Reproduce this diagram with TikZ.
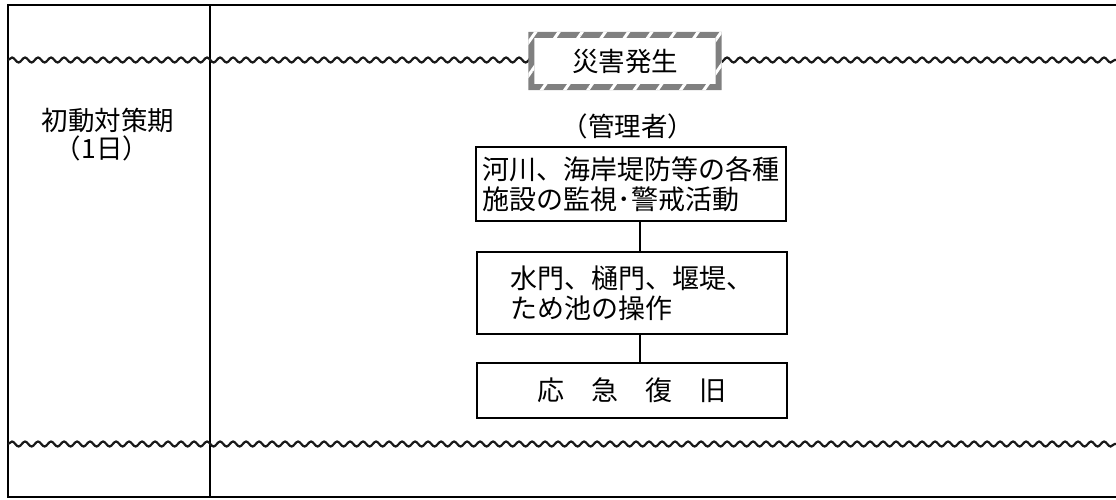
\documentclass[tikz,border=0pt]{standalone}
\usepackage{fontspec}
\setmainfont{Noto Sans CJK JP}
\usepackage{xcolor}
\usetikzlibrary{positioning, calc, decorations.pathmorphing, patterns.meta}
\definecolor{gris}{HTML}{808080}
\tikzset{
  marco/.style={line width=2pt, black},
  nami/.style={decorate, decoration={snake, segment length=13pt, amplitude=2.5pt},
    line width=2.2pt, black!90},
  hako/.style={rectangle, draw, line width=2pt, fill=white, minimum width=310pt,
    align=left, inner sep=0pt, font=\fontsize{27}{30}\selectfont},
  texto/.style={inner sep=0pt, font=\fontsize{26.5}{30}\selectfont},
  sen/.style={line width=2pt}
}

\begin{document}
\begin{tikzpicture}[x=1pt, y=-1pt]
  \useasboundingbox (0,0) rectangle (1116,499);

  % --- Marco de la tabla ---
  \coordinate (esqA) at (8,5);
  \coordinate (esqB) at (1116,5);
  \coordinate (esqC) at (8,497);
  \coordinate (esqD) at (1116,497);
  \coordinate (divA) at (210,5);
  \coordinate (divB) at (210,497);
  \draw[marco] (esqB) -- (esqA) -- (esqC) -- (esqD);
  \draw[marco] (divA) -- (divB);

  % --- Lineas onduladas ---
  \coordinate (ondaA) at (8,60);
  \coordinate (ondaB) at (1116,60);
  \coordinate (ondaC) at (8,444);
  \coordinate (ondaD) at (1116,444);
  \draw[nami] (ondaA) -- (ondaB);
  \draw[nami] (ondaC) -- (ondaD);

  % --- Etiqueta del periodo ---
  \node[texto] (shodo) at (108,120) {初動対策期};
  \node[texto] (ichinichi) at (102,148) {（1日）};

  % --- 災害発生 (marco rayado) ---
  \node[texto, fill=white, minimum width=193pt, minimum height=58pt] (hassei)
    at (625,61) {災害発生};
  \fill[gris, even odd rule] (hassei.north west) rectangle (hassei.south east)
    ([shift={(6,6)}]hassei.north west) rectangle ([shift={(-6,-6)}]hassei.south east);
  \fill[pattern={Lines[angle=55, distance=19pt, line width=3pt]}, pattern color=white,
    even odd rule] (hassei.north west) rectangle (hassei.south east)
    ([shift={(6,6)}]hassei.north west) rectangle ([shift={(-6,-6)}]hassei.south east);

  \node[texto] (kanri) at (628,126) {（管理者）};

  % --- Cajas ---
  \node[hako, minimum height=74pt] (kanshi) at (631,184)
    {河川、海岸堤防等の各種\\施設の監視･警戒活動};
  \node[hako, minimum height=82pt] (sosa) at (632,293)
    {水門、樋門、堰堤、\\ため池の操作};
  \node[hako, minimum height=55pt] (fukkyu) at (632,390)
    {応　急　復　旧};

  % --- Conectores ---
  \coordinate (eje) at (640,0);
  \draw[sen] (kanshi.south -| eje) -- (sosa.north -| eje);
  \draw[sen] (sosa.south -| eje) -- (fukkyu.north -| eje);

\end{tikzpicture}
\end{document}
